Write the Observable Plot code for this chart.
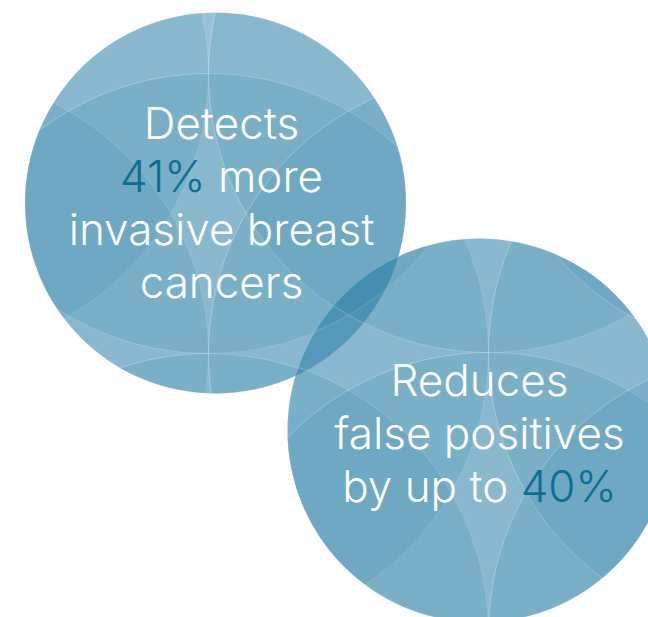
<!DOCTYPE html>
<html>
<head>
<meta charset="utf-8">
<script src="https://cdn.jsdelivr.net/npm/d3@7"></script>
<script src="https://cdn.jsdelivr.net/npm/@observablehq/plot@0.6"></script>
<style>
  html, body { margin: 0; padding: 0; background: #ffffff; }
  #chart svg { display: block; }
</style>
</head>
<body>
<div id="chart"></div>
<script>
// ---- content (text & numbers) ----
const stat1Lines = ["Detects", "41% more", "invasive breast", "cancers"];
const stat1Highlight = "41%";
const stat2Lines = ["Reduces", "false positives", "by up to 40%"];
const stat2Highlight = "40%";

// ---- layout / style constants ----
const W = 648, H = 617;
const INK = "#3383ac";          // overlay tint
const HIGHLIGHT = "#0b6f92";    // coloured numbers
const FONT = "Inter, Lato, 'Open Sans', sans-serif";
const FONT_SIZE = 44;
const LINE_H = 53;
const STEP = 280;               // lattice spacing = pattern circle radius

const bubbles = [
  {id: "b1", cx: 215, cy: 202.5, R: 190.5, ax: 208, ay: 353, lines: stat1Lines, hl: stat1Highlight, tx: 221, base: 138},
  {id: "b2", cx: 479, cy: 430,   R: 192,   ax: 488, ay: 352, lines: stat2Lines, hl: stat2Highlight, tx: 479, base: 395}
];

// pattern circles: 3x3 lattice around each bubble's anchor
bubbles.forEach(b => {
  b.pattern = [];
  for (const i of [-1, 0, 1]) for (const j of [-1, 0, 1]) {
    b.pattern.push({x: b.ax + i * STEP, y: b.ay + j * STEP});
  }
});

// text measurement for mixed-colour lines
const ctx = document.createElement("canvas").getContext("2d");
ctx.font = `300 ${FONT_SIZE}px ${FONT}`;
const mw = s => ctx.measureText(s).width;

const whiteText = [], hlText = [];
bubbles.forEach(b => {
  b.lines.forEach((line, k) => {
    const y = b.base + k * LINE_H;
    const idx = line.indexOf(b.hl);
    if (idx < 0) {
      whiteText.push({x: b.tx, y, text: line, anchor: "middle"});
    } else {
      const total = mw(line);
      const x0 = b.tx - total / 2;
      const pre = line.slice(0, idx);
      const post = line.slice(idx + b.hl.length);
      if (pre.trim()) whiteText.push({x: x0, y, text: pre.trimEnd(), anchor: "start"});
      hlText.push({x: x0 + mw(pre), y, text: b.hl, anchor: "start"});
      if (post.trim()) whiteText.push({x: x0 + mw(pre + b.hl + " "), y, text: post.trim(), anchor: "start"});
    }
  });
});

const marks = [];
bubbles.forEach(b => {
  marks.push(Plot.dot([b], {x: "cx", y: "cy", r: b.R, fill: INK, fillOpacity: 0.41,
    stroke: "#ffffff", strokeOpacity: 0.35, strokeWidth: 0.8}));
  marks.push(Plot.dot(b.pattern, {x: "x", y: "y", r: STEP, fill: INK, fillOpacity: 0.155,
    stroke: "#ffffff", strokeOpacity: 0.4, strokeWidth: 0.7}));
});
const textOpts = {x: "x", y: "y", text: "text", fontSize: FONT_SIZE, fontFamily: FONT, fontWeight: 300, lineAnchor: "bottom"};
marks.push(Plot.text(whiteText.filter(d => d.anchor === "middle"), {...textOpts, fill: "#ffffff", textAnchor: "middle"}));
marks.push(Plot.text(whiteText.filter(d => d.anchor === "start"), {...textOpts, fill: "#ffffff", textAnchor: "start"}));
marks.push(Plot.text(hlText, {...textOpts, fill: HIGHLIGHT, textAnchor: "start"}));

const chart = Plot.plot({
  width: W, height: H,
  margin: 0,
  x: {domain: [0, W], range: [0, W], axis: null},
  y: {domain: [0, H], range: [0, H], axis: null},
  style: {background: "#ffffff", overflow: "hidden"},
  marks
});

// clip each bubble's pattern to its disc (dot groups: disc1, pattern1, disc2, pattern2)
const svg = d3.select(chart);
const defs = svg.insert("defs", ":first-child");
const sx = chart.scale("x"), sy = chart.scale("y");
const dotGroups = svg.selectAll('g[aria-label="dot"]').nodes();
bubbles.forEach((b, i) => {
  defs.append("clipPath").attr("id", "clip-" + b.id)
    .append("circle").attr("cx", sx.apply(b.cx)).attr("cy", sy.apply(b.cy)).attr("r", b.R);
  const g = dotGroups[2 * i + 1];
  if (g) d3.select(g).attr("clip-path", `url(#clip-${b.id})`);
});

document.getElementById("chart").appendChild(chart);
</script>
</body>
</html>
